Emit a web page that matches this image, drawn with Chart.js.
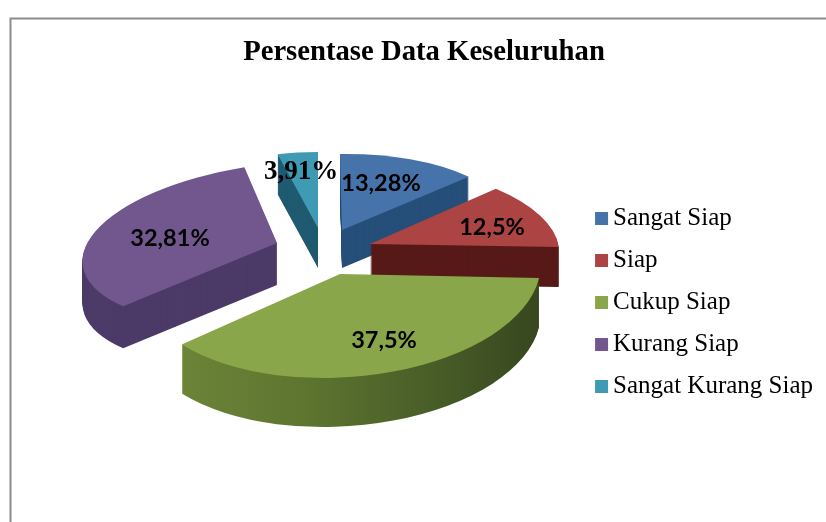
<!DOCTYPE html>
<html>
<head>
<meta charset="utf-8">
<style>html,body{margin:0;padding:0;background:#fff}canvas{display:block}</style>
<script src="https://cdn.jsdelivr.net/npm/chart.js@4"></script>
</head>
<body>
<canvas id="c" width="826" height="522"></canvas>
<script>
const chartTitle = "Persentase Data Keseluruhan";
const categories = ["Sangat Siap", "Siap", "Cukup Siap", "Kurang Siap", "Sangat Kurang Siap"];
const values = [13.28, 12.5, 37.5, 32.81, 3.91];
const valueLabels = ["13,28%", "12,5%", "37,5%", "32,81%", "3,91%"];

const topColors = ["#4674aa", "#ab4442", "#8aa64a", "#72578f", "#3f9ab3"];
const wallColors = ["#264f7a", "#571a18", null, "#4c3a68", "#1f5a70"];

// Per-slice oblique projection of the library's circular arc (exploded, tilted 3D view).
const views = [
  {ox:342, oy:230, a:173, b:2,   c:-3,   d:76,  depth:38},
  {ox:370, oy:244, a:188, b:20,  c:-1,   d:81,  depth:40},
  {ox:340, oy:274, a:200, b:-15, c:-1,   d:104, depth:49},
  {ox:277, oy:243, a:194, b:-15, c:-12,  d:81,  depth:42},
  {ox:318, oy:228, a:166, b:0,   c:0,    d:76,  depth:40}
];
const drawOrder = [4, 0, 3, 1, 2];
const labelStyle = [
  {x:381, y:183, font:"bold 23.5px Lato"},
  {x:492, y:227, font:"bold 23.5px Lato"},
  {x:384, y:340, font:"bold 23.5px Lato"},
  {x:170, y:238, font:"bold 23.5px Lato"},
  {x:301, y:172, font:"bold 27px 'Liberation Serif'"}
];

function swatch(color) {
  const s = document.createElement("canvas");
  s.width = 18; s.height = 13;
  const x = s.getContext("2d");
  x.fillStyle = color; x.fillRect(4, 0, 13, 13);
  return s;
}

const pie3d = {
  id: "pie3d",
  beforeDraw(chart) {
    const {ctx, width, height} = chart;
    ctx.save();
    ctx.strokeStyle = "#8c8c8c";
    ctx.lineWidth = 2;
    ctx.beginPath();
    ctx.moveTo(10.5, height);
    ctx.lineTo(10.5, 18.5);
    ctx.lineTo(width, 18.5);
    ctx.stroke();
    ctx.restore();
  },
  beforeDatasetDraw() { return false; },
  afterDatasetsDraw(chart) {
    const {ctx} = chart;
    const arcs = chart.getDatasetMeta(0).data;
    drawOrder.forEach(i => {
      const arc = arcs[i], v = views[i], r = arc.outerRadius;
      const ax = v.a / r, bx = v.b / r, cx = v.c / r, dx = v.d / r;
      const place = (lift) => ctx.setTransform(ax, cx, bx, dx,
        v.ox - ax * arc.x - bx * arc.y,
        v.oy + lift - cx * arc.x - dx * arc.y);
      let wall = wallColors[i];
      if (!wall) {
        wall = ctx.createLinearGradient(arc.x - r, 0, arc.x + r, 0);
        wall.addColorStop(0, "#708a3a");
        wall.addColorStop(0.45, "#5e7530");
        wall.addColorStop(0.8, "#465a27");
        wall.addColorStop(1, "#38471f");
      }
      const side = Object.create(arc);
      side.options = Object.assign({}, arc.options, {backgroundColor: wall, borderWidth: 0});
      ctx.save();
      for (let h = v.depth; h >= 1; h--) {
        place(h);
        side.draw(ctx);
      }
      place(0);
      const top = Object.create(arc);
      top.options = Object.assign({}, arc.options, {borderWidth: 0});
      top.draw(ctx);
      ctx.restore();
    });
    ctx.save();
    ctx.setTransform(1, 0, 0, 1, 0, 0);
    ctx.fillStyle = "#000";
    ctx.textAlign = "center";
    ctx.textBaseline = "middle";
    valueLabels.forEach((t, i) => {
      ctx.font = labelStyle[i].font;
      ctx.fillText(t, labelStyle[i].x, labelStyle[i].y);
    });
    ctx.restore();
  }
};

new Chart(document.getElementById("c"), {
  type: "pie",
  data: {
    labels: categories,
    datasets: [{data: values, backgroundColor: topColors, borderWidth: 0}]
  },
  options: {
    responsive: false,
    animation: false,
    layout: {padding: {left: 25, right: 3, top: 0, bottom: 0}},
    plugins: {
      tooltip: {enabled: false},
      title: {
        display: true,
        text: chartTitle,
        color: "#000",
        font: {family: "'Liberation Serif'", size: 28.7, weight: "bold"},
        padding: {top: 35, bottom: 13}
      },
      legend: {
        position: "right",
        fullSize: false,
        labels: {
          color: "#111",
          font: {family: "'Liberation Serif'", size: 25},
          boxWidth: 1,
          boxHeight: 13,
          padding: 17,
          usePointStyle: true,
          generateLabels(chart) {
            return categories.map((name, i) => ({
              text: name,
              fillStyle: topColors[i],
              strokeStyle: topColors[i],
              lineWidth: 0,
              pointStyle: swatch(topColors[i]),
              hidden: false,
              index: i
            }));
          }
        }
      }
    }
  },
  plugins: [pie3d]
});
</script>
</body>
</html>
